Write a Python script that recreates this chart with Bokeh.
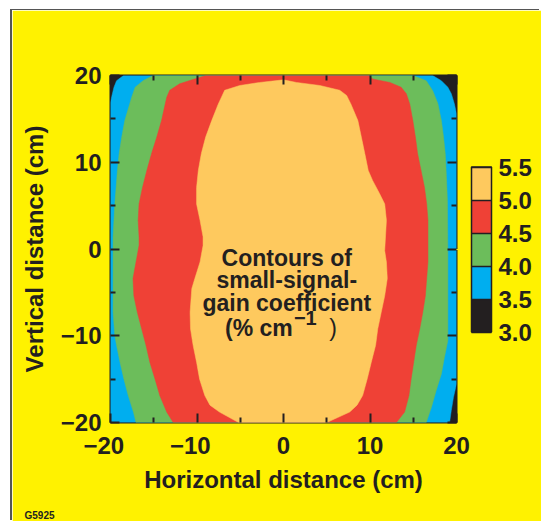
from bokeh.plotting import figure
from bokeh.models import (LinearAxis, FixedTicker, ColorBar, LinearColorMapper, Label,
                          PrintfTickFormatter, Range1d, Title)
from bokeh.embed import file_html
from bokeh.resources import INLINE

# ---------------- data ----------------
axis_ticks = [-20, -10, 0, 10, 20]
axis_minor_ticks = [-15, -5, 5, 15]
axis_tick_labels = ["\u221220", "\u221210", "0", "10", "20"]

levels = [3.0, 3.5, 4.0, 4.5, 5.0, 5.5]
level_colors = ["#231F20", "#00AEEF", "#6CBD5B", "#EF4136", "#FEC95E"]

# contour boundaries (cm): region where gain >= 3.5
lvl35_x = [-18.5, 17.25, 18.25, 19.0, 19.4, 19.75, 20.0, 20.0, 19.65, 19.4, 19.2,
           -20.0, -20.0, -19.85, -19.6, -19.3]
lvl35_y = [20.0, 20.0, 19.4, 18.65, 17.9, 16.75, 15.6, -15.55, -17.1, -18.6, -20.0,
           -20.0, 16.9, 17.6, 18.65, 19.4]

# gain >= 4.0
lvl40_x = [-15.05, -16.2, -17.15, -17.55, -18.35, -18.7, -19.0, -19.2, -19.35, -19.5,
           -19.6, -19.7, -19.7, -19.7, -19.5, -19.3, -18.9, -18.45, -17.95, -17.35, -17.05,
           16.5, 17.1, 17.65, 18.25, 18.6, 19.0, 19.0, 19.0, 18.95, 18.8, 18.7, 18.5,
           18.25, 17.85, 17.25, 16.5, 14.95]
lvl40_y = [20.0, 19.42, 18.65, 17.5, 14.8, 12.9, 11.0, 9.05, 7.1, 5.2,
           3.3, 1.4, -0.2, -7.3, -10.0, -11.1, -13.05, -15.0, -16.9, -18.8, -20.0,
           -20.0, -18.25, -16.3, -14.4, -12.5, -10.55, -5.9, -0.2, 5.6, 9.05, 11.0, 12.9,
           14.8, 16.75, 18.25, 19.4, 20.0]

# gain >= 4.5
lvl45_x = [-9.0, -9.65, -12.0, -13.15, -13.5, -14.1, -14.65, -15.25, -15.8, -16.3, -16.7,
           -16.8, -16.7, -16.7, -17.05, -17.4, -17.3, -16.9, -16.4, -15.9, -15.45, -14.85,
           -14.3, -13.5, -12.75,
           13.05, 14.0, 14.5, 14.75, 15.05, 15.35, 15.75, 16.1, 16.4, 16.55, 16.7, 16.7,
           16.55, 16.3, 15.9, 15.5, 15.25, 14.95, 14.6, 14.2, 13.6, 12.3, 10.3, 9.9]
lvl45_y = [20.0, 19.8, 19.05, 18.3, 17.5, 14.8, 12.9, 11.0, 9.05, 7.1, 5.2,
           3.3, 1.4, 0.4, -1.5, -3.4, -5.4, -7.3, -9.2, -11.1, -13.05, -15.0,
           -16.9, -18.8, -20.0,
           -20.0, -18.8, -16.9, -15.0, -13.05, -11.1, -9.2, -7.3, -5.4, -3.4, -1.5, 3.3,
           5.2, 7.1, 9.05, 11.0, 12.9, 14.8, 16.7, 17.9, 18.65, 19.2, 19.6, 20.0]

# gain >= 5.0
lvl50_x = [0.0, 1.5, 4.2, 6.5, 7.3, 7.8, 8.6, 9.0, 9.4, 9.8, 10.3, 11.1, 11.7, 11.9, 11.7,
           11.9, 12.0, 11.7, 11.3, 10.9, 10.65, 10.15, 9.7, 9.15, 8.5, 7.65, 5.0,
           -5.2, -7.4, -8.5, -9.1, -9.7, -10.05, -10.45, -10.75, -10.8, -10.6, -10.25,
           -9.65, -9.3, -9.3, -9.65, -10.05, -10.05, -9.85, -9.5, -9.0, -8.3, -7.55, -6.8,
           -5.05, -2.75]
lvl50_y = [19.5, 19.2, 18.85, 18.3, 17.7, 16.7, 14.8, 12.9, 11.0, 9.05, 7.9, 6.4, 5.2, 3.3, -0.2,
           -1.5, -3.4, -5.4, -7.3, -9.2, -11.1, -13.05, -14.9, -16.9, -18.0, -18.8, -20.0,
           -20.0, -18.8, -18.0, -16.9, -15.0, -13.05, -11.1, -9.2, -7.3, -4.55, -3.4,
           -1.5, 0.4, 1.4, 3.3, 5.2, 7.1, 9.05, 11.0, 12.9, 14.8, 16.7, 18.3,
           18.85, 19.2]

note_lines = ["Contours of", "small-signal-", "gain coefficient"]
note_unit = ["(% cm", "\u22121", ")"]
x_title = "Horizontal distance (cm)"
y_title = "Vertical distance (cm)"
figure_code = "G5925"

# ---------------- style ----------------
FONT = "Liberation Sans"
INK = "#231F20"
YELLOW = "#FFF200"

p = figure(width=529, height=511, output_backend="svg", toolbar_location=None,
           x_range=Range1d(-20, 20), y_range=Range1d(-20, 20),
           x_axis_location=None, y_axis_location=None,
           min_border_left=98, min_border_right=84, min_border_top=65, min_border_bottom=99,
           background_fill_color=level_colors[0], border_fill_color=YELLOW,
           outline_line_color=INK, outline_line_width=2)
p.styles = {"margin-left": "12px", "margin-top": "10px",
            "box-shadow": "-2px -1px 0 0 #555555"}
p.xgrid.visible = False
p.ygrid.visible = False

for xs, ys, c in [(lvl35_x, lvl35_y, level_colors[1]), (lvl40_x, lvl40_y, level_colors[2]),
                  (lvl45_x, lvl45_y, level_colors[3]), (lvl50_x, lvl50_y, level_colors[4])]:
    p.patch(xs, ys, fill_color=c, line_color=c, line_width=0.5)


def make_axis(show_labels, title=None, pad_minus=False, label_standoff=10):
    ax = LinearAxis(ticker=FixedTicker(ticks=axis_ticks, minor_ticks=axis_minor_ticks),
                    axis_line_color=None,
                    major_tick_in=9, major_tick_out=0, minor_tick_in=5, minor_tick_out=0,
                    major_tick_line_color=INK, major_tick_line_width=2,
                    minor_tick_line_color=INK, minor_tick_line_width=2)
    if show_labels:
        labs = {t: (l + "\u2007" if (pad_minus and l.startswith("\u2212")) else l)
                for t, l in zip(axis_ticks, axis_tick_labels)}
        ax.major_label_overrides = labs
        ax.major_label_standoff = 9
        ax.major_label_text_font = FONT
        ax.major_label_text_font_size = "24px"
        ax.major_label_text_font_style = "bold"
        ax.major_label_text_color = INK
        ax.axis_label = title
        ax.axis_label_standoff = label_standoff
        ax.axis_label_text_font = FONT
        ax.axis_label_text_font_size = "24px"
        ax.axis_label_text_font_style = "bold"
        ax.axis_label_text_color = INK
    else:
        ax.major_label_text_color = None
        ax.major_label_standoff = 0
    return ax


def spacer_axis(length, at):
    # invisible spacer (yellow tick on yellow background)
    return LinearAxis(ticker=FixedTicker(ticks=[at]), axis_line_color=None,
                      major_tick_in=0, major_tick_out=length, minor_tick_in=0, minor_tick_out=0,
                      major_tick_line_color=YELLOW, minor_tick_line_color=None,
                      major_label_text_color=None, major_label_standoff=0)


p.add_layout(make_axis(True, y_title, label_standoff=10), "left")
p.add_layout(make_axis(True, x_title, pad_minus=True, label_standoff=4), "below")
p.add_layout(spacer_axis(11, axis_ticks[0]), "below")
p.add_layout(make_axis(False), "above")
p.add_layout(make_axis(False), "right")
p.add_layout(spacer_axis(8, axis_ticks[2]), "right")

mapper = LinearColorMapper(palette=level_colors, low=levels[0], high=levels[-1])
cb = ColorBar(color_mapper=mapper, ticker=FixedTicker(ticks=levels),
              formatter=PrintfTickFormatter(format="%.1f"),
              width=20, height=165, location="center_left", padding=7, margin=0,
              major_tick_in=20, major_tick_out=0, major_tick_line_color=INK,
              major_tick_line_width=1.5, bar_line_color=INK, bar_line_width=1.5,
              label_standoff=7, major_label_text_font=FONT, major_label_text_font_size="24px",
              major_label_text_font_style="bold", major_label_text_color=INK,
              background_fill_color=None, border_line_color=None)
p.add_layout(cb, "right")

p.add_layout(Title(text=figure_code, align="left", offset=-86, standoff=2,
                   text_font=FONT, text_font_size="10px", text_font_style="bold",
                   text_color=INK), "below")

note_y = [-0.98, -3.63, -6.28]
for txt, yy in zip(note_lines, note_y):
    p.add_layout(Label(x=0.375, y=yy, text=txt, text_align="center", text_baseline="alphabetic",
                       text_font=FONT, text_font_size="23px", text_font_style="bold",
                       text_color=INK))
p.add_layout(Label(x=1.07, y=-9.05, text=note_unit[0], text_align="right",
                   text_baseline="alphabetic", text_font=FONT, text_font_size="23px",
                   text_font_style="bold", text_color=INK))
p.add_layout(Label(x=1.2, y=-7.9, text=note_unit[1], text_align="left",
                   text_baseline="alphabetic", text_font=FONT, text_font_size="20px",
                   text_font_style="bold", text_color=INK))
p.add_layout(Label(x=5.3, y=-9.05, text=note_unit[2], text_align="left",
                   text_baseline="alphabetic", text_font=FONT, text_font_size="23px",
                   text_font_style="normal", text_color=INK))

open("out.html", "w").write(file_html(p, INLINE))
